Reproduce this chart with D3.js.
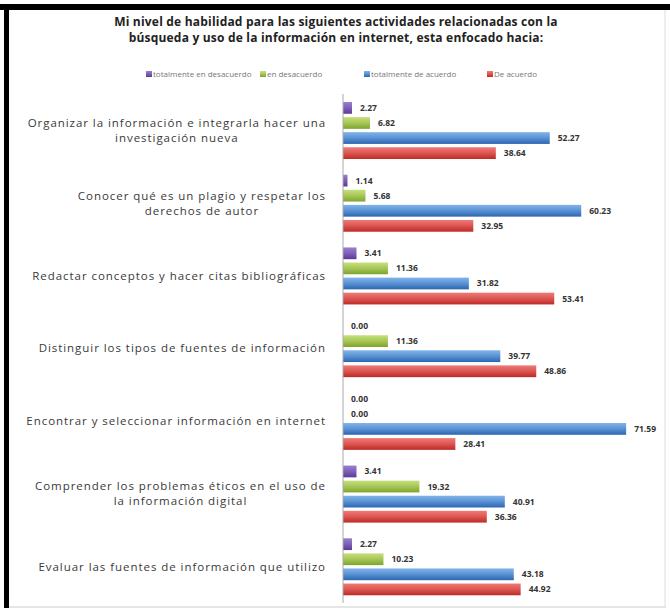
<!DOCTYPE html>
<html>
<head>
<meta charset="utf-8">
<script src="https://cdn.jsdelivr.net/npm/d3@7"></script>
<style>
  body { margin: 0; background: #fff; }
  svg { display: block; }
</style>
</head>
<body>
<svg width="670" height="613"></svg>
<script>
const categories = [
  "Organizar la información e integrarla hacer una|investigación nueva",
  "Conocer qué es un plagio y respetar los|derechos de autor",
  "Redactar conceptos y hacer citas bibliográficas",
  "Distinguir los tipos de fuentes de información",
  "Encontrar y seleccionar información en internet",
  "Comprender los problemas éticos  en el uso de|la información digital",
  "Evaluar las fuentes de información que utilizo"
]
const seriesNames = ["totalmente en desacuerdo", "en desacuerdo", "totalmente de acuerdo", "De acuerdo"]
const totDesacuerdo = [2.27, 1.14, 3.41, 0.00, 0.00, 3.41, 2.27]
const enDesacuerdo = [6.82, 5.68, 11.36, 11.36, 0.00, 19.32, 10.23]
const totAcuerdo = [52.27, 60.23, 31.82, 39.77, 71.59, 40.91, 43.18]
const deAcuerdo = [38.64, 32.95, 53.41, 48.86, 28.41, 36.36, 44.92]
const titleLines = [
  "Mi nivel de habilidad para las siguientes actividades relacionadas con la",
  "búsqueda y uso de la información en internet, esta enfocado hacia:"
]

const series = [totDesacuerdo, enDesacuerdo, totAcuerdo, deAcuerdo]
const colors = [
  ["#9a7fd0", "#5b3a96"],
  ["#c6e07a", "#7fa52c"],
  ["#7fb4ec", "#2c66b2"],
  ["#f07a76", "#c02a26"]
]

const svg = d3.select("svg")
const font = "'Open Sans', 'DejaVu Sans', sans-serif"

// frame
svg.append("rect").attr("x", 0).attr("y", 0).attr("width", 670).attr("height", 613).attr("fill", "#fff")
svg.append("rect").attr("x", 0).attr("y", 4).attr("width", 670).attr("height", 6).attr("fill", "#000")
svg.append("rect").attr("x", 4).attr("y", 4).attr("width", 5).attr("height", 604).attr("fill", "#000")
svg.append("line").attr("x1", 9).attr("x2", 666).attr("y1", 607).attr("y2", 607).attr("stroke", "#ccc")
svg.append("line").attr("x1", 665).attr("x2", 665).attr("y1", 10).attr("y2", 607).attr("stroke", "#ddd")

const defs = svg.append("defs")
colors.forEach((c, i) => {
  const g = defs.append("linearGradient").attr("id", "g" + i).attr("x1", 0).attr("x2", 0).attr("y1", 0).attr("y2", 1)
  g.append("stop").attr("offset", "0%").attr("stop-color", c[0])
  g.append("stop").attr("offset", "45%").attr("stop-color", d3.interpolate(c[0], c[1])(0.4))
  g.append("stop").attr("offset", "100%").attr("stop-color", c[1])
})

// title
svg.selectAll(".title")
  .data(titleLines)
  .enter()
  .append("text")
  .attr("x", 336)
  .attr("y", (d, i) => 26 + i * 16)
  .attr("text-anchor", "middle")
  .style("font-family", font)
  .style("font-weight", "bold")
  .style("font-size", "12px")
  .style("letter-spacing", "0.2px")
  .style("fill", "#222")
  .text(d => d)

// legend
const legendX = [146, 260, 364, 487]
const legend = svg.selectAll(".legend")
  .data(seriesNames)
  .enter()
  .append("g")
  .attr("transform", (d, i) => `translate(${legendX[i]},74)`)
legend.append("rect").attr("x", 0).attr("y", -3).attr("width", 6).attr("height", 6).attr("fill", (d, i) => `url(#g${i})`)
legend.append("text")
  .attr("x", 7)
  .attr("y", 3)
  .style("font-family", font)
  .style("font-size", "8px")
  .style("fill", "#777")
  .text(d => d)

// scales
const x = d3.scaleLinear().domain([0, 80]).range([343, 343 + 80 * 3.955])
const y0 = d3.scaleBand().domain(d3.range(categories.length)).range([94, 603]).paddingInner(0).paddingOuter(0)
const y1 = d3.scaleBand().domain(d3.range(series.length)).range([8, 65]).paddingInner(0.22).paddingOuter(0)

const groups = svg.selectAll(".group")
  .data(categories)
  .enter()
  .append("g")
  .attr("class", "group")
  .attr("transform", (d, i) => `translate(0,${y0(i)})`)

groups.selectAll("rect")
  .data((d, i) => series.map((s, j) => ({ s: j, v: s[i] })))
  .enter()
  .append("rect")
  .attr("x", x(0))
  .attr("y", d => y1(d.s))
  .attr("width", d => x(d.v) - x(0))
  .attr("height", y1.bandwidth())
  .attr("fill", d => `url(#g${d.s})`)

groups.selectAll(".val")
  .data((d, i) => series.map((s, j) => ({ s: j, v: s[i] })))
  .enter()
  .append("text")
  .attr("class", "val")
  .attr("x", d => x(d.v) + 8)
  .attr("y", d => y1(d.s) + y1.bandwidth() / 2 + 3)
  .style("font-family", font)
  .style("font-weight", "bold")
  .style("font-size", "8.5px")
  .style("fill", "#333")
  .text(d => d.v.toFixed(2))

// category labels
groups.each(function (d) {
  const g = d3.select(this)
  const lines = d.split("|")
  const t = g.append("g")
  const texts = t.selectAll("text")
    .data(lines)
    .enter()
    .append("text")
    .attr("y", (l, k) => y0.bandwidth() / 2 + 4 + (k - (lines.length - 1) / 2) * 15)
    .attr("text-anchor", "middle")
    .style("font-family", font)
    .style("font-size", "11.5px")
    .style("letter-spacing", "0.95px")
    .style("fill", "#3a3a3a")
    .text(l => l)
  let maxW = 0
  texts.each(function () { maxW = Math.max(maxW, this.getComputedTextLength()) })
  texts.attr("x", 326 - maxW / 2)
})

// axis line
svg.append("line")
  .attr("x1", x(0)).attr("x2", x(0))
  .attr("y1", y0.range()[0]).attr("y2", y0.range()[1])
  .attr("stroke", "#aaa")
</script>
</body>
</html>
